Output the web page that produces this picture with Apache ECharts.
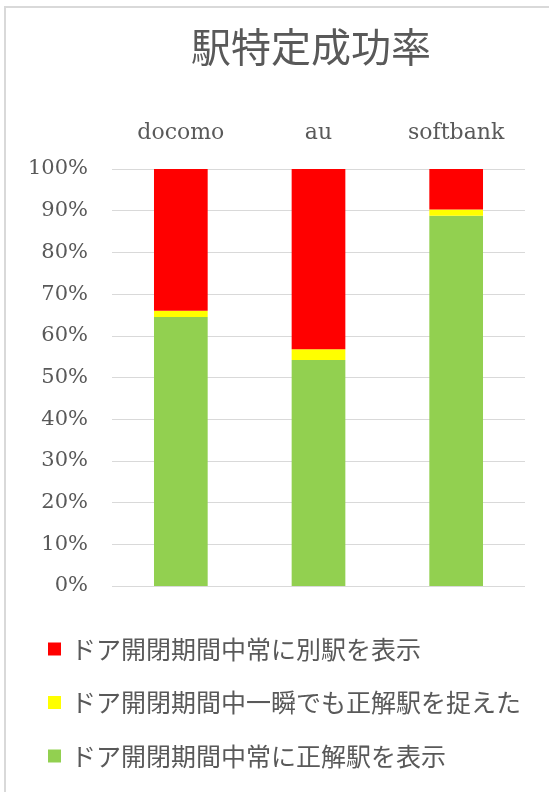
<!DOCTYPE html>
<html><head><meta charset="utf-8">
<script src="https://cdn.jsdelivr.net/npm/echarts@6/dist/echarts.min.js"></script>
<style>html,body{margin:0;padding:0;background:#fff}#c{width:549px;height:792px}</style>
</head><body><div id="c"></div>
<script>
var titleText = '駅特定成功率';
var categories = ['docomo', 'au', 'softbank'];
var seriesNames = ['ドア開閉期間中常に正解駅を表示', 'ドア開閉期間中一瞬でも正解駅を捉えた', 'ドア開閉期間中常に別駅を表示'];
var correctAlways = [64.5, 54.2, 88.8];
var correctMoment = [1.5, 2.6, 1.5];
var wrongAlways = [34.0, 43.2, 9.7];
var yTicks = [0, 10, 20, 30, 40, 50, 60, 70, 80, 90, 100];

var colors = ['#92D050', '#FFFF00', '#FF0000'];
var chart = echarts.init(document.getElementById('c'), null, {renderer: 'canvas'});
var values = [correctAlways, correctMoment, wrongAlways];
chart.setOption({
  animation: false,
  backgroundColor: '#ffffff',
  graphic: [{
    type: 'rect', shape: {x: 5, y: 7, width: 600, height: 820},
    style: {fill: 'none', stroke: '#d9d9d9', lineWidth: 2}, silent: true
  }],
  title: {
    text: titleText, left: 191, top: 27, padding: 0,
    textStyle: {fontFamily: 'Noto Sans CJK JP', fontSize: 40, fontWeight: 'normal', color: '#595959'}
  },
  grid: {left: 112, right: 24, top: 169, bottom: 206},
  legend: {
    orient: 'vertical', left: 48, top: 634, padding: 0,
    data: [seriesNames[2], seriesNames[1], seriesNames[0]],
    icon: 'rect', itemWidth: 13, itemHeight: 13, itemGap: 23.5,
    textStyle: {fontFamily: 'Noto Sans CJK JP', fontSize: 25, color: '#595959', lineHeight: 30, padding: [0, 0, 0, 5]}
  },
  xAxis: {
    type: 'category', position: 'top', data: categories,
    axisLine: {show: false}, axisTick: {show: false},
    axisLabel: {fontFamily: 'DejaVu Serif', fontSize: 22, color: '#595959', margin: 25}
  },
  yAxis: {
    type: 'value', min: yTicks[0], max: yTicks[yTicks.length - 1], interval: 10,
    axisLine: {show: false}, axisTick: {show: false},
    splitLine: {lineStyle: {color: '#d9d9d9', width: 1}},
    axisLabel: {formatter: '{value}%', fontFamily: 'DejaVu Serif', fontSize: 21, color: '#595959', margin: 24}
  },
  series: values.map(function (v, i) {
    return {
      name: seriesNames[i], type: 'bar', stack: 'total', data: v,
      barWidth: '39%', itemStyle: {color: colors[i]}
    };
  })
});
</script></body></html>
